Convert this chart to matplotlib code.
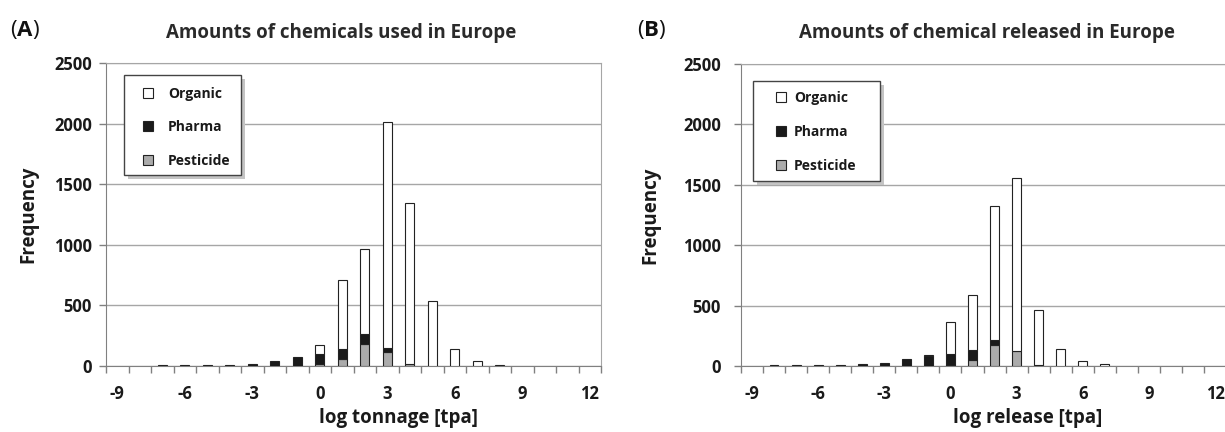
import numpy as np
import matplotlib.pyplot as plt
from matplotlib.lines import Line2D
from matplotlib.patches import Rectangle

plt.rcParams['font.family'] = ['Open Sans', 'DejaVu Sans']
plt.rcParams['axes.unicode_minus'] = False

# log classes -9 .. 12
cats = list(range(-9, 13))

# (A) amounts used, log tonnage
used_pest = [0, 0, 0, 0, 0, 0, 0, 0, 0, 14, 55, 178, 118, 19, 3, 0, 0, 0, 0, 0, 0, 0]
used_pharma = [0, 0, 8, 8, 8, 8, 20, 38, 74, 85, 88, 82, 33, 0, 0, 0, 0, 0, 0, 0, 0, 0]
used_org = [0, 0, 0, 0, 0, 0, 0, 0, 0, 74, 567, 704, 1860, 1329, 531, 142, 44, 8, 0, 0, 0, 0]

# (B) amounts released, log release
rel_pest = [0, 0, 0, 0, 0, 0, 0, 0, 0, 8, 50, 174, 124, 8, 0, 0, 0, 0, 0, 0, 0, 0]
rel_pharma = [0, 7, 7, 7, 7, 14, 25, 60, 82, 88, 80, 41, 0, 0, 0, 0, 0, 0, 0, 0, 0, 0]
rel_org = [0, 0, 0, 0, 0, 0, 0, 0, 12, 271, 458, 1112, 1435, 455, 138, 39, 14, 0, 0, 0, 0, 0]

labels = ["Organic", "Pharma", "Pesticide"]
c_org, c_pharma, c_pest = "white", "#1a1a1a", "#ababab"
txt = "#1a1a1a"

fig = plt.figure(figsize=(12.25, 4.32), dpi=100)
axA = fig.add_axes([106 / 1225, 66 / 432, 495 / 1225, 303 / 432])
axB = fig.add_axes([741 / 1225, 66 / 432, 485 / 1225, 302 / 432])


def panel(ax, pest, pharma, org, xlabel, ypad, ylab_x, box, leg_xy, tpad):
    x = np.array(cats)
    pest = np.array(pest)
    pharma = np.array(pharma)
    org = np.array(org)
    kw = dict(width=0.4, edgecolor="#222222", linewidth=0.8, zorder=3)
    # only draw segments that are there, so empty classes stay blank
    m = pest > 0
    ax.bar(x[m], pest[m], color=c_pest, **kw)
    m = pharma > 0
    ax.bar(x[m], pharma[m], bottom=pest[m], color=c_pharma, **kw)
    m = org > 0
    ax.bar(x[m], org[m], bottom=(pest + pharma)[m], color=c_org, **kw)

    ax.set_xlim(cats[0] - 0.5, cats[-1] + 0.5)
    ax.set_ylim(0, 2500)
    ax.set_yticks(np.arange(0, 2501, 500))
    ax.set_xticks(cats[::3])
    ax.set_xticks(np.arange(cats[0] - 0.5, cats[-1] + 1, 1), minor=True)
    ax.tick_params(axis="x", which="major", length=0, pad=14, labelsize=12, labelcolor=txt)
    ax.tick_params(axis="x", which="minor", length=5, color="#808080", width=1)
    ax.tick_params(axis="y", length=5, color="#808080", width=1, pad=ypad,
                   labelsize=12, labelcolor=txt)
    for t in ax.get_xticklabels() + ax.get_yticklabels():
        t.set_fontweight("bold")
    ax.yaxis.grid(True, color="#a6a6a6", linewidth=1, zorder=0)
    ax.set_axisbelow(True)
    for s in ["top", "right"]:
        ax.spines[s].set_color("#a6a6a6")
    for s in ["left", "bottom"]:
        ax.spines[s].set_color("#808080")
    ax.set_xlabel(xlabel, fontsize=13.5, fontweight="bold", color=txt)
    ax.xaxis.set_label_coords(0.59, -0.138)
    ax.set_ylabel("Frequency", fontsize=13.5, fontweight="bold", color=txt)
    ax.yaxis.set_label_coords(ylab_x, 0.5)

    # legend box with a soft drop shadow
    bx, by, bw, bh = box
    ax.add_patch(Rectangle((bx + 0.008, by - 0.013), bw, bh, transform=ax.transAxes,
                           facecolor="#c4c4c4", edgecolor="none", zorder=4, clip_on=False))
    ax.add_patch(Rectangle((bx, by), bw, bh, transform=ax.transAxes, facecolor="white",
                           edgecolor="#444444", linewidth=1.0, zorder=4.5, clip_on=False))

    handles = [
        Line2D([], [], marker="s", linestyle="none", markersize=7.2,
               markerfacecolor=c, markeredgecolor="#222222", markeredgewidth=0.8)
        for c in (c_org, c_pharma, c_pest)
    ]
    leg = ax.legend(handles, labels, loc="upper left", bbox_to_anchor=leg_xy,
                    frameon=False, prop={"weight": "bold", "size": 10},
                    labelspacing=1.42, borderpad=0, handlelength=0.95,
                    handletextpad=tpad, borderaxespad=0)
    for t in leg.get_texts():
        t.set_color(txt)
    leg.set_zorder(5)


panel(axA, used_pest, used_pharma, used_org, "log tonnage [tpa]", 5, -0.137,
      (0.036, 0.630, 0.236, 0.330), (0.0715, 0.922), 0.95)
panel(axB, rel_pest, rel_pharma, rel_org, "log release [tpa]", 9.5, -0.167,
      (0.0247, 0.613, 0.262, 0.331), (0.0689, 0.9095), 0.45)

fig.text(0.2788, 0.9113, "Amounts of chemicals used in Europe", ha="center", va="baseline",
         fontsize=13.5, fontweight="bold", color="#2a2a2a")
fig.text(0.8057, 0.9113, "Amounts of chemical released in Europe", ha="center", va="baseline",
         fontsize=13.5, fontweight="bold", color="#2a2a2a")

# panel letters "(A)" / "(B)": bold letter, plain brackets
renderer = fig.canvas.get_renderer()
W = fig.get_figwidth() * fig.dpi
for x0, letter in [(10 / 1225, "A"), (637 / 1225, "B")]:
    xpos = x0
    for s, w in [("(", "normal"), (letter, "bold"), (")", "normal")]:
        t = fig.text(xpos, 1 - 36 / 432, s, fontsize=16, fontweight=w, va="baseline",
                     ha="left", color="#111111")
        xpos = t.get_window_extent(renderer).x1 / W

fig.savefig("out.png", dpi=100)
